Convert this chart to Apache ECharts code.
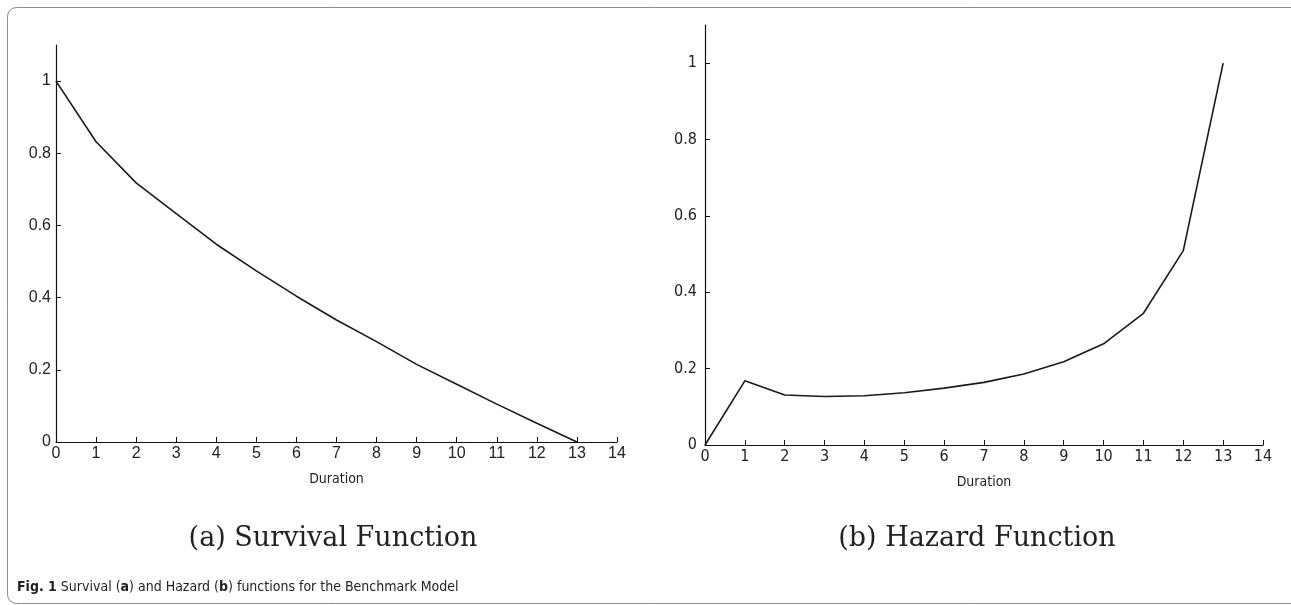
<!DOCTYPE html>
<html>
<head>
<meta charset="utf-8">
<script src="https://cdn.jsdelivr.net/npm/echarts@6/dist/echarts.min.js"></script>
<style>
  html, body { margin: 0; padding: 0; background: #fff; }
  #main { width: 1291px; height: 605px; }
</style>
</head>
<body>
<div id="main"></div>
<script>
var myChart = echarts.init(document.getElementById('main'));

// durations 0..13
const durations = [0, 1, 2, 3, 4, 5, 6, 7, 8, 9, 10, 11, 12, 13];
// survival function (a)
const survival = [1, 0.832, 0.718, 0.633, 0.548, 0.474, 0.404, 0.338, 0.278, 0.215, 0.160, 0.105, 0.052, 0];
// hazard function (b)
const hazard = [0, 0.168, 0.131, 0.127, 0.129, 0.137, 0.149, 0.164, 0.186, 0.218, 0.265, 0.345, 0.509, 1.0];
const yTicks = [0, 0.2, 0.4, 0.6, 0.8, 1];

const leftFont = "'Liberation Sans', Arial, sans-serif";
const rightFont = "'DejaVu Sans Condensed', 'Open Sans', sans-serif";

function xAxisFor(idx, font, margin) {
  return {
    gridIndex: idx,
    type: 'value',
    min: 0,
    max: 14,
    interval: 1,
    name: 'Duration',
    nameLocation: 'middle',
    nameGap: 30,
    nameTextStyle: { fontFamily: rightFont, fontSize: 14, color: '#222' },
    axisLine: { lineStyle: { color: '#111', width: 1.2 } },
    axisTick: { inside: true, length: 5, lineStyle: { color: '#111' } },
    axisLabel: { fontFamily: font, fontSize: 16, color: '#222', margin: margin },
    splitLine: { show: false }
  };
}

function yAxisFor(idx, font, margin) {
  return {
    gridIndex: idx,
    type: 'value',
    min: 0,
    max: 1.1,
    axisLine: { show: true, lineStyle: { color: '#111', width: 1.2 } },
    axisTick: { inside: true, length: 5, customValues: yTicks, lineStyle: { color: '#111' } },
    axisLabel: { fontFamily: font, fontSize: 16, color: '#222', margin: margin, customValues: yTicks },
    splitLine: { show: false }
  };
}

const option = {
  backgroundColor: '#fff',
  animation: false,
  graphic: [
    {
      type: 'rect',
      shape: { x: 7.5, y: 7.5, width: 1300, height: 596, r: 9 },
      style: { fill: 'none', stroke: '#8a8a8a', lineWidth: 1 }
    }
  ],
  title: [
    {
      text: '(a) Survival Function',
      left: 328, top: 520, textAlign: 'center',
      textStyle: { fontFamily: "'DejaVu Serif', 'Liberation Serif', serif", fontWeight: 'normal', fontSize: 27, color: '#222' }
    },
    {
      text: '(b) Hazard Function',
      left: 972, top: 520, textAlign: 'center',
      textStyle: { fontFamily: "'DejaVu Serif', 'Liberation Serif', serif", fontWeight: 'normal', fontSize: 27, color: '#222' }
    },
    {
      text: '{b|Fig. 1} Survival ({b|a}) and Hazard ({b|b}) functions for the Benchmark Model',
      left: 12, top: 575,
      textStyle: {
        fontFamily: rightFont, fontSize: 14, color: '#222', fontWeight: 'normal',
        rich: { b: { fontFamily: rightFont, fontSize: 14, fontWeight: 'bold', color: '#222' } }
      }
    }
  ],
  grid: [
    { left: 56, right: 674, top: 45, bottom: 163 },
    { left: 705, right: 28, top: 25, bottom: 160 }
  ],
  xAxis: [xAxisFor(0, leftFont, 4), xAxisFor(1, rightFont, 4)],
  yAxis: [yAxisFor(0, leftFont, 5), yAxisFor(1, rightFont, 8)],
  series: [
    {
      type: 'line',
      xAxisIndex: 0,
      yAxisIndex: 0,
      showSymbol: false,
      data: durations.map(function (d, i) { return [d, survival[i]]; }),
      lineStyle: { color: '#1a1a1a', width: 1.6 }
    },
    {
      type: 'line',
      xAxisIndex: 1,
      yAxisIndex: 1,
      showSymbol: false,
      data: durations.map(function (d, i) { return [d, hazard[i]]; }),
      lineStyle: { color: '#1a1a1a', width: 1.6 }
    }
  ]
};

myChart.setOption(option);
</script>
</body>
</html>
